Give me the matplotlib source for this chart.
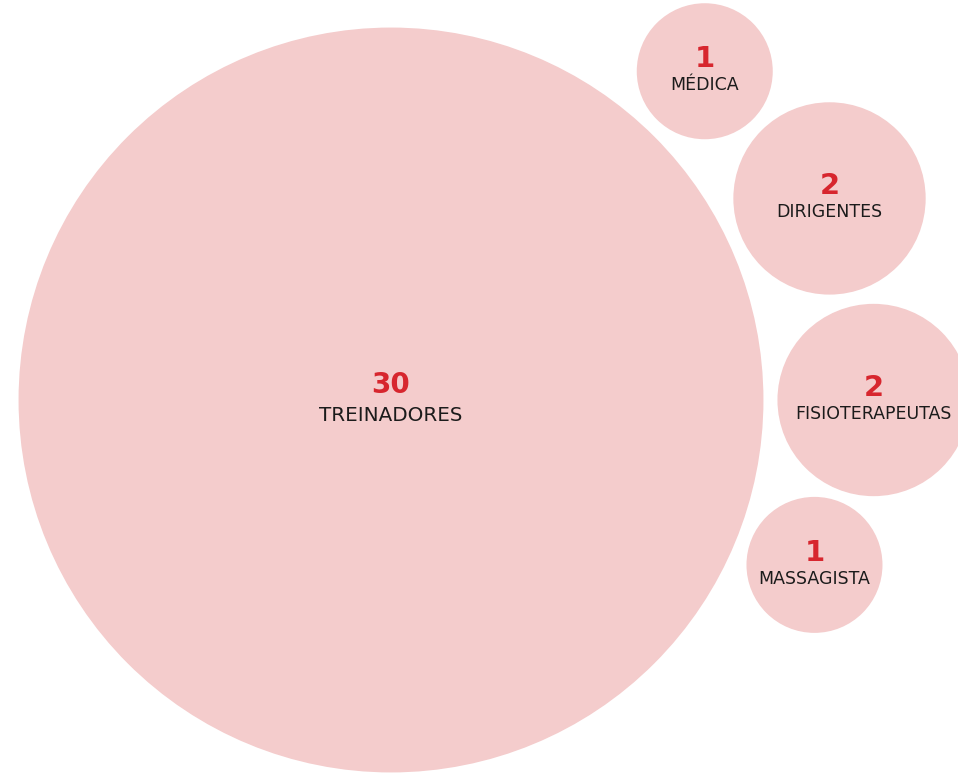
import math
import matplotlib
matplotlib.use("Agg")
import matplotlib.pyplot as plt
from matplotlib.patches import Circle

# ---- data ----
categories = ["TREINADORES", "FISIOTERAPEUTAS", "DIRIGENTES", "MÉDICA", "MASSAGISTA"]
values = [30, 2, 2, 1, 1]

# ---- style ----
W, H = 958, 773
fill = "#f4cccc"
num_color = "#d7262e"
lab_color = "#1b1b1b"
k = 68.0      # px radius per sqrt(value)
pad = 14.0    # gap between circles (px)

fig = plt.figure(figsize=(W / 100, H / 100), dpi=100)
ax = fig.add_axes([0, 0, 1, 1])
ax.set_xlim(0, W)
ax.set_ylim(H, 0)
ax.axis("off")

radii = [k * math.sqrt(v) for v in values]

# layout: big circle anchored, others packed around its right side
centers = [None] * len(values)
centers[0] = (391.0, 400.0)
c0 = centers[0]
R0 = radii[0]

def angle_of(i):
    dx, dy = centers[i][0] - c0[0], centers[i][1] - c0[1]
    return math.atan2(dy, dx)

def place(i, ang):
    d = R0 + radii[i] + pad
    centers[i] = (c0[0] + d * math.cos(ang), c0[1] + d * math.sin(ang))

def place_next(i, j, direction, gap=pad):
    # tangent to big circle and to circle j; direction -1 = upward, +1 = downward
    a = R0 + radii[i] + pad
    b = R0 + radii[j] + pad
    c = radii[i] + radii[j] + gap
    th = math.acos((a * a + b * b - c * c) / (2 * a * b))
    place(i, angle_of(j) + direction * th)

place(1, 0.0)              # fisioterapeutas
place_next(2, 1, -1)       # dirigentes above
place_next(3, 2, -1)       # médica above
place_next(4, 1, +1, 11)   # massagista below

for i, ((cx, cy), r, cat, v) in enumerate(zip(centers, radii, categories, values)):
    big = (i == 0)
    ax.add_patch(Circle((cx, cy), r, facecolor=fill, edgecolor="none"))
    ax.text(cx, cy - (7 if big else 4), str(v), ha="center", va="baseline",
            fontsize=20 if big else 21, fontweight="bold", color=num_color,
            family="DejaVu Sans")
    ax.text(cx, cy + (21 if big else 19), cat, ha="center", va="baseline",
            fontsize=14.3 if big else 12.5, color=lab_color, family="DejaVu Sans")

fig.savefig("out.png", dpi=100)
